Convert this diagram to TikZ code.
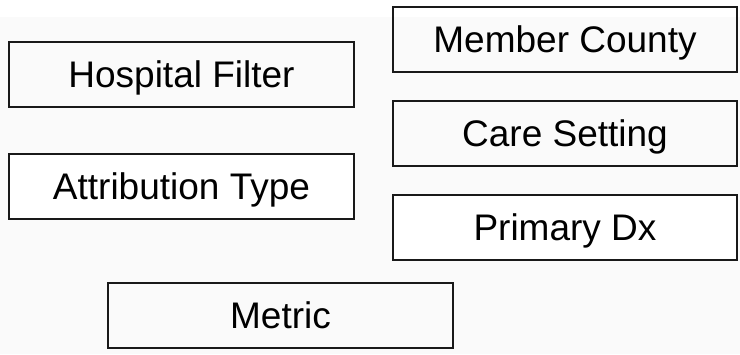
\documentclass[tikz,border=0pt]{standalone}
\usepackage{fontspec}
\setmainfont{Liberation Sans}
\definecolor{panelgray}{RGB}{250,250,250}
\tikzset{
  field/.style={draw=black!90, line width=1.6pt, minimum width=345pt,
    minimum height=65pt, inner sep=0pt, text height=27pt, text depth=1pt,
    font=\fontsize{37}{41}\selectfont}
}
\begin{document}
\begin{tikzpicture}[x=1pt,y=-1pt]
\useasboundingbox (0,0) rectangle (740,354);
\fill[white] (0,0) rectangle (740,354);
\fill[panelgray] (0,17) rectangle (740,354);
% left column
\node[field] (hosp) at (181.5,74.5) {Hospital Filter};
\node[field,fill=white] (attr) at (181.5,186.5) {Attribution Type};
% right column
\node[field,minimum width=344pt] (county) at (565,39.5) {Member County};
\node[field,minimum width=344pt] (care) at (565,133.5) {Care Setting};
\node[field,minimum width=344pt,fill=white] (dx) at (565,227.5) {Primary Dx};
% bottom
\node[field] (metric) at (280.5,315.5) {Metric};
\end{tikzpicture}
\end{document}
